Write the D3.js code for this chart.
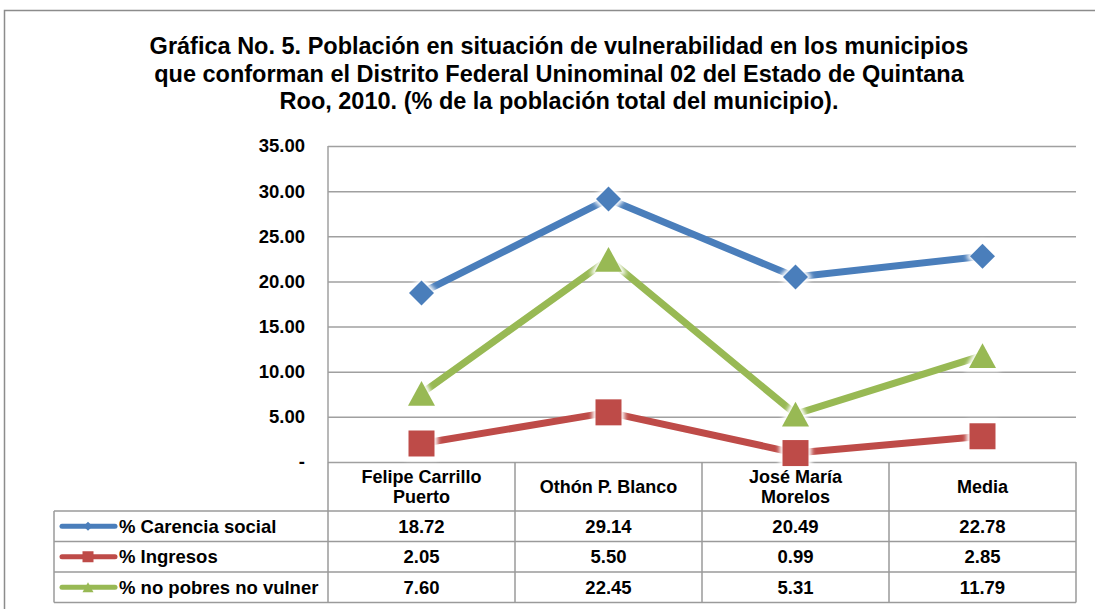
<!DOCTYPE html>
<html>
<head>
<meta charset="utf-8">
<script src="https://cdn.jsdelivr.net/npm/d3@7"></script>
<style>
  body { margin: 0; background: #fff; }
  text { font-family: "Liberation Sans", Arial, sans-serif; font-weight: bold; fill: #000; }
</style>
</head>
<body>
<script>
'use strict';

// chart data
const titleLines = [
  "Gráfica No. 5. Población en situación de vulnerabilidad en los municipios",
  "que conforman el Distrito Federal Uninominal 02 del Estado de Quintana",
  "Roo, 2010. (% de la población total del municipio)."
];
const categories = ["Felipe Carrillo Puerto", "Othón P. Blanco", "José María Morelos", "Media"];
const categoryLines = [["Felipe Carrillo", "Puerto"], ["Othón P. Blanco"], ["José María", "Morelos"], ["Media"]];
const seriesNames = ["% Carencia social", "% Ingresos", "% no pobres no vulner"];
const carencia = [18.72, 29.14, 20.49, 22.78];
const ingresos = [2.05, 5.50, 0.99, 2.85];
const noPobres = [7.60, 22.45, 5.31, 11.79];
const yTicks = [0, 5, 10, 15, 20, 25, 30, 35];

const seriesValues = [carencia, ingresos, noPobres];
const colors = ["#4a7ebb", "#be4b48", "#98b954"];
const shapes = ["diamond", "square", "triangle"];

const W = 1095, H = 609;
const svg = d3.select("body").append("svg")
  .attr("width", W)
  .attr("height", H);

// soft white halo behind markers
const defs = svg.append("defs");
defs.append("filter").attr("id", "halo")
  .attr("x", "-50%").attr("y", "-50%").attr("width", "200%").attr("height", "200%")
  .append("feGaussianBlur").attr("stdDeviation", 2);

// outer frame
svg.append("rect")
  .attr("x", 4.5).attr("y", 10.5)
  .attr("width", 1200).attr("height", 700)
  .style("fill", "none").style("stroke", "#8c8c8c").style("stroke-width", 1.5);

// title
svg.append("text")
  .attr("x", 559)
  .attr("text-anchor", "middle")
  .style("font-size", "23.5px")
  .selectAll("tspan")
  .data(titleLines)
  .enter().append("tspan")
  .attr("x", 559)
  .attr("y", (d, i) => 54 + i * 27.5)
  .text(d => d);

// scales
const x = d3.scaleBand().domain(categories).range([328, 1076]);
const y = d3.scaleLinear().domain([0, 35]).range([462, 146]);

// gridlines
svg.append("g")
  .attr("transform", "translate(328,0)")
  .call(d3.axisRight(y).tickValues(yTicks).tickSize(1076 - 328).tickFormat(""))
  .call(g => g.select(".domain").remove())
  .call(g => g.selectAll("line").style("stroke", "#a0a0a0").style("stroke-width", 1.5));

// y tick labels
svg.append("g")
  .attr("transform", "translate(328,0)")
  .call(d3.axisLeft(y).tickValues(yTicks).tickSize(0).tickPadding(23)
    .tickFormat(d => d === 0 ? "-" : d3.format(".2f")(d)))
  .call(g => g.select(".domain").remove())
  .call(g => g.selectAll("text").style("font-size", "18.5px")
    .style("font-family", "'Liberation Sans', Arial, sans-serif").style("font-weight", "bold").attr("fill", "#000"));

// left axis line
svg.append("line")
  .attr("x1", 328).attr("x2", 328)
  .attr("y1", y(35)).attr("y2", y(0))
  .style("stroke", "#a0a0a0").style("stroke-width", 1.5);

// lines and markers
const line = d3.line()
  .x((d, i) => x(categories[i]) + x.bandwidth() / 2)
  .y(d => y(d));

function markerPath(shape, s) {
  if (shape === "diamond") return d3.symbol(d3.symbolSquare, s * s / 2)();
  if (shape === "square") return d3.symbol(d3.symbolSquare, s * s)();
  // triangle, bounding box centred on the point
  const h = s * 0.92;
  return "M0," + (-h / 2) + "L" + (s / 2) + "," + (h / 2) + "L" + (-s / 2) + "," + (h / 2) + "Z";
}
const markerSize = [25, 26, 27];

seriesValues.forEach((vals, k) => {
  svg.append("path")
    .datum(vals)
    .attr("d", line)
    .style("fill", "none")
    .style("stroke", colors[k])
    .style("stroke-width", 7)
    .style("stroke-linejoin", "round");

  const pts = svg.append("g").selectAll("g")
    .data(vals)
    .enter().append("g")
    .attr("transform", (d, i) => "translate(" + (x(categories[i]) + x.bandwidth() / 2) + "," + y(d) + ")"
      + (shapes[k] === "diamond" ? " rotate(45)" : ""));

  pts.append("path")
    .attr("d", markerPath(shapes[k], markerSize[k]))
    .style("fill", "#fff").style("stroke", "#fff").style("stroke-width", 6)
    .attr("filter", "url(#halo)");
  pts.append("path")
    .attr("d", markerPath(shapes[k], markerSize[k]))
    .style("fill", colors[k]);
});

// data table
const headTop = 462, headBottom = 511, rowH = 30.5, tableLeft = 54;
const gridColor = "#9a9a9a";
const tableRight = x.range()[1];
const rowsBottom = headBottom + rowH * seriesNames.length;

// header cells
categories.forEach((c, i) => {
  const cx = x(c) + x.bandwidth() / 2;
  const lines = categoryLines[i];
  const mid = (headTop + headBottom) / 2;
  svg.append("text")
    .attr("text-anchor", "middle")
    .style("font-size", "18px")
    .selectAll("tspan")
    .data(lines)
    .enter().append("tspan")
    .attr("x", cx)
    .attr("y", (d, j) => mid + 6 + (j - (lines.length - 1) / 2) * 20)
    .text(d => d);
});

// row labels, legend keys and values
seriesNames.forEach((name, k) => {
  const cy = headBottom + rowH * k + rowH / 2;
  svg.append("line")
    .attr("x1", 62).attr("x2", 115)
    .attr("y1", cy).attr("y2", cy)
    .style("stroke", colors[k]).style("stroke-width", 5).style("stroke-linecap", "round");
  svg.append("path")
    .attr("transform", "translate(88," + cy + ")" + (shapes[k] === "diamond" ? " rotate(45)" : ""))
    .attr("d", markerPath(shapes[k], shapes[k] === "diamond" ? 9 : 11))
    .style("fill", colors[k]);
  svg.append("text")
    .attr("x", 119).attr("y", cy + 6.5)
    .style("font-size", "18.5px")
    .text(name);
  seriesValues[k].forEach((v, i) => {
    svg.append("text")
      .attr("x", x(categories[i]) + x.bandwidth() / 2)
      .attr("y", cy + 6.5)
      .attr("text-anchor", "middle")
      .style("font-size", "18.5px")
      .text(d3.format(".2f")(v));
  });
});

// table grid
const tg = svg.append("g").style("stroke", gridColor).style("stroke-width", 1.5).style("fill", "none");
categories.forEach(c => {
  tg.append("line").attr("x1", x(c)).attr("x2", x(c)).attr("y1", headTop).attr("y2", rowsBottom);
});
tg.append("line").attr("x1", tableRight).attr("x2", tableRight).attr("y1", headTop).attr("y2", rowsBottom);
tg.append("line").attr("x1", tableLeft).attr("x2", tableLeft).attr("y1", headBottom).attr("y2", rowsBottom);
d3.range(seriesNames.length + 1).forEach(r => {
  const yy = headBottom + rowH * r;
  tg.append("line").attr("x1", tableLeft).attr("x2", tableRight).attr("y1", yy).attr("y2", yy);
});
</script>
</body>
</html>
